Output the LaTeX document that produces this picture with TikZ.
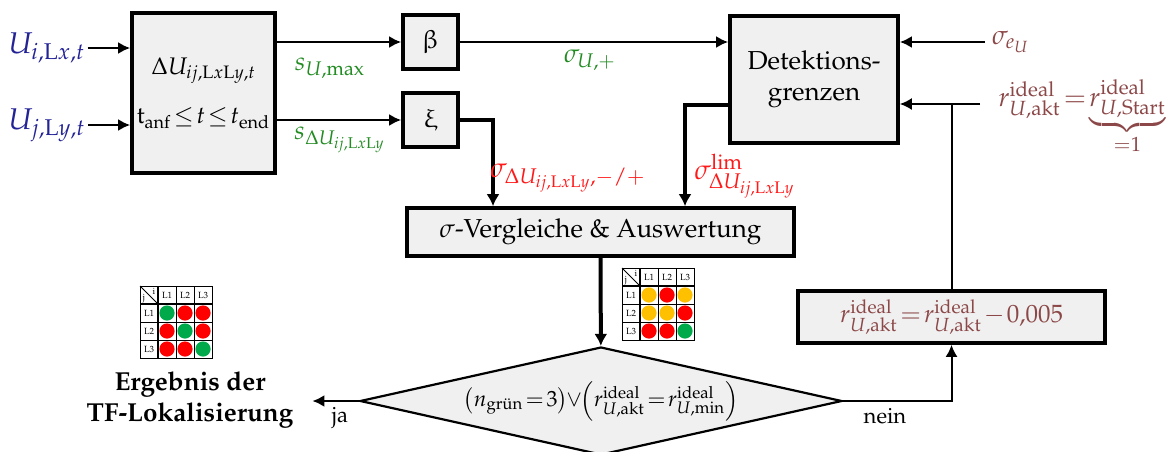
\documentclass[tikz,border=0pt]{standalone}
\usepackage[T1]{fontenc}
\usepackage{mathpazo}
\usepackage{amsmath,amssymb}
\usepackage{upgreek}
\usepackage{xcolor}
\usetikzlibrary{arrows.meta,positioning,shapes.geometric,calc}

\definecolor{inblue}{RGB}{35,35,150}
\definecolor{sgreen}{RGB}{34,139,34}
\definecolor{limred}{RGB}{255,25,25}
\definecolor{rbrown}{RGB}{140,72,72}
\definecolor{boxgray}{RGB}{240,240,240}
\definecolor{ampelrot}{RGB}{255,0,0}
\definecolor{ampelgelb}{RGB}{255,192,0}
\definecolor{ampelgruen}{RGB}{0,170,75}

\newcommand{\ampelfeld}[4]{%
  \begin{scope}[shift={(#2,#3)}]
    \foreach \farbe [count=\n from 0] in {#4} {
      \pgfmathtruncatemacro{\zeile}{div(\n,3)}
      \pgfmathtruncatemacro{\spalte}{mod(\n,3)}
      \fill[\farbe] ({(\spalte+1.5)*18},{(\zeile+1.5)*18}) circle (3.8pt);
    }
    \draw[line width=0.4pt] (0,0) rectangle (72,72);
    \foreach \k in {2,3} {\draw[line width=0.4pt] (\k*18,0) -- (\k*18,72) (0,\k*18) -- (72,\k*18);}
    \draw[line width=0.9pt] (18,0) -- (18,72) (0,18) -- (72,18);
    \draw[line width=0.5pt] (0,0) -- (18,18);
    \node[feldtext] (#1-i) at (14,5) {i}; \node[feldtext] (#1-j) at (4,13) {j};
    \foreach \k in {1,2,3} {\node[feldtext] (#1-s\k) at ({(\k+0.5)*18},9) {L\k}; \node[feldtext] (#1-z\k) at (9,{(\k+0.5)*18}) {L\k};}
  \end{scope}}
\newcommand{\engmath}{\thickmuskip=2mu\medmuskip=1.5mu}

\begin{document}
\begin{tikzpicture}[x=0.5pt,y=-0.5pt,every node/.style={font=\fontsize{13}{15.5}\selectfont,align=center},block/.style={draw,line width=1.8pt,fill=boxgray,inner sep=0pt},decision/.style={draw,diamond,aspect=4.46,line width=1.1pt,fill=boxgray,inner sep=0pt,minimum width=241pt,minimum height=54pt},arrow/.style={-{Latex[length=6pt,width=6pt]},line width=1.3pt},thickarrow/.style={-{Latex[length=6pt,width=6.5pt]},line width=2pt},plainline/.style={line width=1pt},thinarrow/.style={-{Latex[length=6pt,width=6pt]},line width=1pt},inlabel/.style={text=inblue,font=\fontsize{15}{18}\selectfont,inner sep=1pt},glabel/.style={text=sgreen},rlabel/.style={text=limred,font=\fontsize{14}{17}\selectfont},blabel/.style={text=rbrown,font=\fontsize{13.5}{16}\selectfont},feldtext/.style={font=\fontsize{4.5}{5}\selectfont,inner sep=0pt}]
\useasboundingbox (0,0) rectangle (1166,451);
\node[block,minimum width=71.5pt,minimum height=80pt,font=\fontsize{12}{14.5}\selectfont] (delta) at (203.5,93) {$\Delta U_{ij,\mathrm{L}x\mathrm{L}y,t}$\\[10pt]$\engmath\mathrm{t}_{\mathrm{anf}}\leq t\leq t_{\mathrm{end}}$};
\node[block,minimum width=27.5pt,minimum height=27pt] (beta) at (430.5,42) {$\upbeta$}; \node[block,minimum width=27.5pt,minimum height=27pt] (xi) at (430.5,120) {$\upxi$};
\node[block,minimum width=84pt,minimum height=63.5pt] (det) at (814,79.5) {Detektions-\\grenzen};
\node[block,minimum width=193.5pt,minimum height=24pt] (verg) at (600.5,232) {$\sigma$-Vergleiche \& Auswertung};
\node[block,minimum width=153.5pt,minimum height=26pt,text=rbrown,font=\fontsize{12.5}{15}\selectfont] (rbox) at (951.5,317) {$\engmath r^{\mathrm{ideal}}_{U,\mathrm{akt}}=r^{\mathrm{ideal}}_{U,\mathrm{akt}}-0{,}005$};
\node[decision,font=\fontsize{11}{13}\selectfont] (dia) at (601,401) {$\engmath\left(n_{\text{gr\"un}}=3\right)\!\vee\!\left(r^{\mathrm{ideal}}_{U,\mathrm{akt}}=r^{\mathrm{ideal}}_{U,\mathrm{min}}\right)$};
\node[font=\fontsize{13}{15.5}\selectfont\bfseries] (erg) at (190,400) {Ergebnis der\\TF-Lokalisierung};
\node[inlabel,anchor=west] (ui) at (6,48) {$U_{i,\mathrm{L}x,t}$}; \node[inlabel,anchor=west] (uj) at (6,125) {$U_{j,\mathrm{L}y,t}$};
\draw[arrow] (ui) -- (ui -| delta.west); \draw[arrow] (uj) -- (uj -| delta.west);
\draw[arrow] (delta.east |- beta) -- (beta); \draw[arrow] (delta.east |- xi) -- (xi);
\node[glabel] (smax) at (330,68) {$s_{U,\mathrm{max}}$}; \node[glabel] (sdelta) at (340,140) {$s_{\Delta U_{ij,\mathrm{L}x\mathrm{L}y}}$};
\draw[arrow] (beta) -- (beta -| det.west); \node[glabel] (sigplus) at (590,60) {$\sigma_{U,+}$};
\coordinate (xiknick) at (493,120); \draw[thickarrow] (xi) -- (xiknick) -- (xiknick |- verg.north);
\node[rlabel] (sigmp) at (568,178) {$\sigma_{\Delta U_{ij,\mathrm{L}x\mathrm{L}y},{-}/{+}}$};
\coordinate (detknick) at (685,105); \draw[thickarrow] (det.west |- detknick) -- (detknick) -- (detknick |- verg.north);
\node[rlabel] (siglim) at (745,176) {$\sigma^{\mathrm{lim}}_{\Delta U_{ij,\mathrm{L}x\mathrm{L}y}}$};
\node[blabel,anchor=west] (sigeu) at (985,42) {$\sigma_{e_U}$}; \draw[arrow] (sigeu) -- (sigeu -| det.east);
\coordinate (rin) at (980,104); \node[blabel] (rstart) at (1082,117) {$\engmath r^{\mathrm{ideal}}_{U,\mathrm{akt}}=\underbrace{r^{\mathrm{ideal}}_{U,\mathrm{Start}}}_{=1}$};
\draw[thinarrow] (rin) -- (rin -| det.east); \draw[plainline] (rbox.north) -- (rbox.north |- rin);
\draw[thickarrow] (verg) -- (dia);
\draw[arrow,shorten >=6pt] (dia.west) -- (dia.west -| erg.east); \node[font=\fontsize{11}{13}\selectfont] (ja) at (340,418) {ja};
\draw[thinarrow] (dia.east) -| (rbox.south); \node[font=\fontsize{11}{13}\selectfont] (nein) at (885,416) {nein};
\ampelfeld{ergfeld}{140}{286}{ampelgruen,ampelrot,ampelrot,ampelrot,ampelgruen,ampelrot,ampelrot,ampelrot,ampelgruen}
\ampelfeld{vergfeld}{622}{268}{ampelgelb,ampelrot,ampelgelb,ampelgelb,ampelgelb,ampelrot,ampelrot,ampelrot,ampelgruen}
\end{tikzpicture}
\end{document}
